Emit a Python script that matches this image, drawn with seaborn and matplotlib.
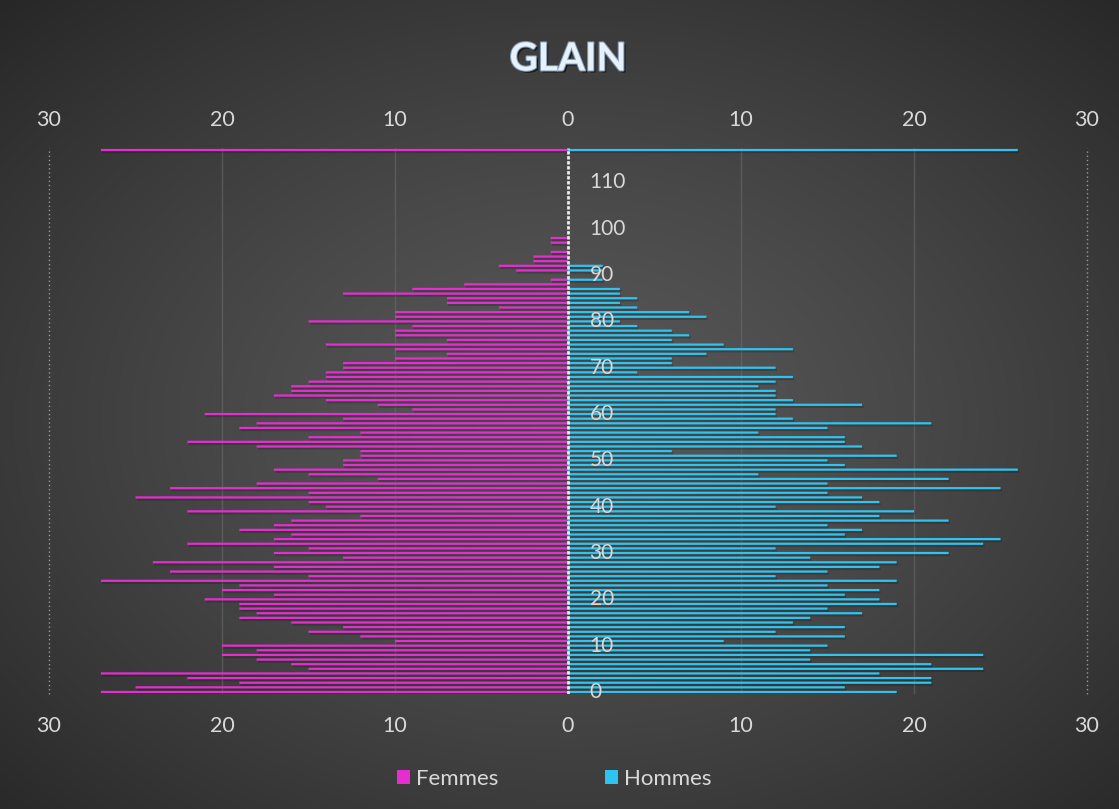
import numpy as np
import pandas as pd
import matplotlib
matplotlib.use("Agg")
import matplotlib.pyplot as plt
import seaborn as sns
from matplotlib import patheffects as pe
from matplotlib.patches import Rectangle

# ---------------- data ----------------
ages = list(range(118))
femmes = [27, 25, 19, 22, 27, 15, 16, 18, 20, 18,
          20, 10, 12, 15, 13, 16, 19, 18, 19, 19,
          21, 17, 20, 19, 27, 15, 23, 17, 24, 13,
          17, 15, 22, 17, 16, 19, 17, 16, 12, 22,
          14, 15, 25, 15, 23, 18, 11, 15, 17, 13,
          13, 12, 12, 18, 22, 15, 12, 19, 18, 13,
          21, 9, 11, 14, 17, 16, 16, 15, 14, 14,
          13, 13, 10, 7, 10, 14, 7, 10, 10, 9,
          15, 10, 10, 4, 7, 7, 13, 9, 6, 1,
          0, 3, 4, 2, 2, 1, 0, 1, 1, 0,
          0, 0, 0, 0, 0, 0, 0, 0, 0, 0,
          0, 0, 0, 0, 0, 0, 0, 27]
hommes = [19, 16, 21, 21, 18, 24, 21, 14, 24, 14,
          15, 9, 16, 12, 16, 13, 14, 17, 15, 19,
          18, 16, 18, 15, 19, 12, 15, 18, 19, 14,
          22, 12, 24, 25, 16, 17, 15, 22, 18, 20,
          12, 18, 17, 15, 25, 15, 22, 11, 26, 16,
          15, 19, 6, 17, 16, 16, 11, 15, 21, 13,
          12, 12, 17, 13, 12, 12, 11, 12, 13, 4,
          12, 6, 6, 8, 13, 9, 6, 7, 6, 4,
          3, 8, 7, 4, 3, 4, 3, 3, 0, 2,
          0, 2, 2, 0, 0, 0, 0, 0, 0, 0,
          0, 0, 0, 0, 0, 0, 0, 0, 0, 0,
          0, 0, 0, 0, 0, 0, 0, 26]
age_labels = list(range(0, 111, 10))
x_ticks = [-30, -20, -10, 0, 10, 20, 30]
series_names = ["Femmes", "Hommes"]
series_colors = ["#E62DD2", "#2EC4F1"]
title = "GLAIN"

# ---------------- style ----------------
sns.set_theme(style="dark")
plt.rcParams['font.family'] = ['Lato', 'DejaVu Sans']
txt_color = "#D9D9D9"

W, H = 1119, 809
fig = plt.figure(figsize=(W / 100, H / 100), dpi=100)
fig.patch.set_facecolor("#333333")

# radial gradient background
bg = fig.add_axes([0, 0, 1, 1], zorder=-10)
yy, xx = np.mgrid[0:H, 0:W]
cx, cy = 570, 420
r = np.sqrt(((xx - cx) / W) ** 2 + ((yy - cy) / H) ** 2) / 0.72
v = (0.345 - 0.19 * np.clip(r, 0, 1.2) ** 1.3)
img = np.dstack([v, v, v])
bg.imshow(img, aspect="auto", extent=[0, 1, 0, 1], interpolation="bilinear")
bg.set_axis_off()

ax_left, ax_right = 49 / W, 1087 / W
ax_bot = 1 - 694.3 / H
ax_top = 1 - 147.7 / H
ax = fig.add_axes([ax_left, ax_bot, ax_right - ax_left, ax_top - ax_bot])
ax.set_facecolor("none")

df = pd.DataFrame({
    "age": ages * 2,
    "valeur": [-f for f in femmes] + hommes,
    "sexe": [series_names[0]] * len(ages) + [series_names[1]] * len(ages),
})

sns.barplot(data=df, x="valeur", y="age", hue="sexe", orient="h",
            native_scale=True, dodge=False, width=0.48,
            palette=series_colors, saturation=1, linewidth=0,
            legend=False, ax=ax, zorder=3)

for p in ax.patches:
    p.set_antialiased(True)
    p.set_snap(False)
    if p.get_width() != 0:
        p.set_path_effects([pe.SimplePatchShadow(offset=(1, -1.5), shadow_rgbFace="black", alpha=0.18),
                            pe.Normal()])

ax.set_xlim(-30, 30)
ax.set_ylim(-0.5, 117.5)
ax.set_xlabel("")
ax.set_ylabel("")
ax.set_yticks([])
for s in ax.spines.values():
    s.set_visible(False)
ax.grid(False)

# gridlines
for gx in [-20, -10, 10, 20]:
    ax.axvline(gx, color="#6a6a6a", lw=1.0, alpha=0.6, zorder=1)
for gx in [-30, 30]:
    ax.axvline(gx, color="#9a9a9a", lw=1.0, ls=(0, (1, 2)), zorder=1, clip_on=False)
ax.axvline(0, color="#EEEEEE", lw=2.0, ls=(0, (1.2, 0.6)), zorder=4)

# x ticks bottom
tick_labels = [str(abs(t)) for t in x_ticks]
ax.set_xticks(x_ticks)
ax.set_xticklabels(tick_labels)
ax.tick_params(axis="x", length=0, labelsize=15.5, labelcolor=txt_color, pad=15.3)

# x ticks top
sec = ax.secondary_xaxis("top")
sec.set_xticks(x_ticks)
sec.set_xticklabels(tick_labels)
sec.tick_params(axis="x", length=0, labelsize=15.5, labelcolor=txt_color, pad=13.0)
for s in sec.spines.values():
    s.set_visible(False)

# age labels
for a in age_labels:
    ax.text(1.25, a, str(a), ha="left", va="center", fontsize=15, color=txt_color, zorder=5)

# title
fig.text(568 / W, 1 - 59 / H, title, ha="center", va="center", fontsize=28,
         fontweight="bold", color="#E6F1FA",
         path_effects=[pe.withSimplePatchShadow(offset=(1.5, -1.5), shadow_rgbFace="black", alpha=0.6),
                       pe.withStroke(linewidth=1.5, foreground="#7d97b0")])

# legend
handles = [Rectangle((0, 0), 1, 1, facecolor=c, edgecolor="none") for c in series_colors]
leg = fig.legend(handles, series_names, loc="center", bbox_to_anchor=(554 / W, 1 - 779 / H),
                 ncol=2, frameon=False, fontsize=16, handlelength=0.6, handleheight=0.6,
                 handletextpad=0.25, columnspacing=4.8)
for t in leg.get_texts():
    t.set_color(txt_color)

fig.savefig("out.png", dpi=100)
